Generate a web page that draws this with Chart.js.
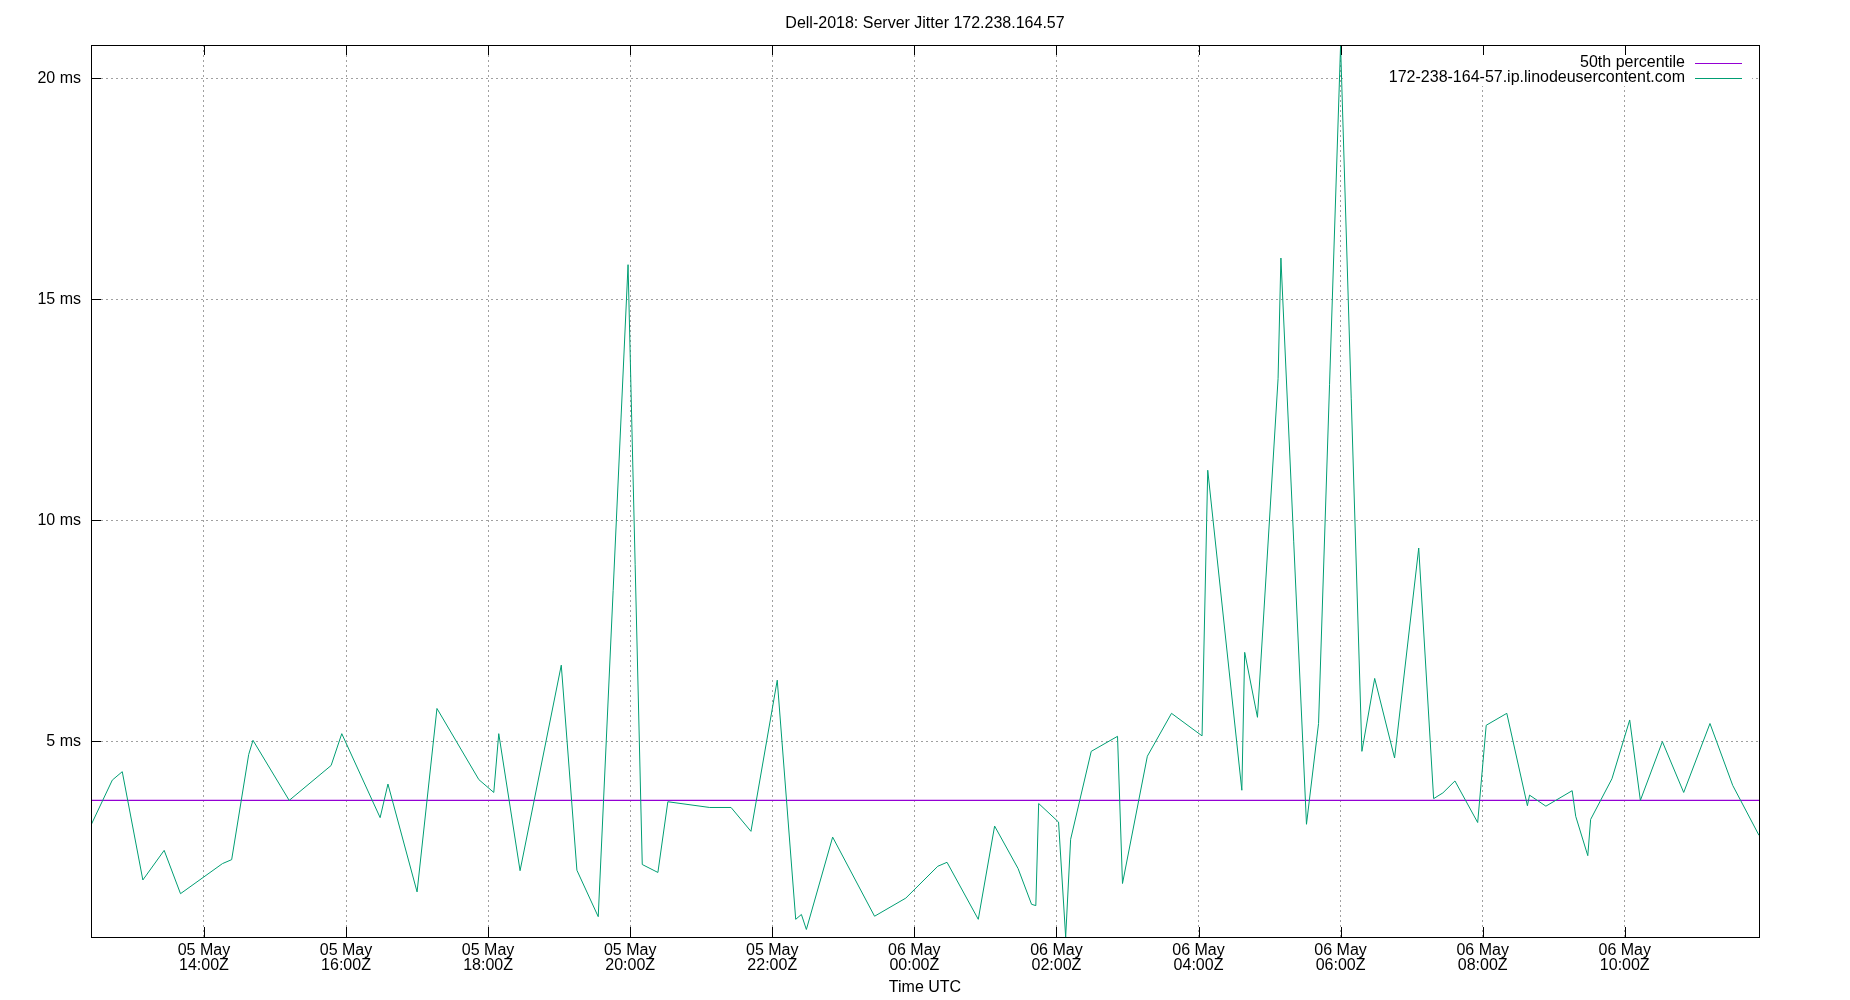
<!DOCTYPE html>
<html>
<head>
<meta charset="utf-8">
<script src="https://cdn.jsdelivr.net/npm/chart.js@4.4.1/dist/chart.umd.min.js"></script>
<style>
  html, body { margin: 0; padding: 0; background: #ffffff; }
  #wrap { width: 1850px; height: 1000px; }
</style>
</head>
<body>
<div id="wrap"><canvas id="c" width="1850" height="1000"></canvas></div>
<script>
// ---- data (hours since 05 May 00:00 UTC) ----
const timesH = [
  12.41, 12.71, 12.85, 13.14, 13.44, 13.67, 14.26, 14.39, 14.63, 14.69,
  15.20, 15.79, 15.94, 16.48, 16.59, 17.00, 17.28, 17.87, 18.08, 18.15,
  18.45, 19.03, 19.25, 19.55, 19.97, 20.17, 20.39, 20.53, 21.12, 21.42,
  21.70, 22.07, 22.33, 22.41, 22.48, 22.85, 23.44, 23.88, 24.33, 24.46,
  24.90, 25.13, 25.46, 25.65, 25.71, 25.75, 26.03, 26.13, 26.20, 26.49,
  26.86, 26.93, 27.28, 27.62, 28.05, 28.13, 28.61, 28.65, 28.83, 29.12,
  29.16, 29.52, 29.69, 30.00, 30.30, 30.48, 30.76, 31.10, 31.31, 31.44,
  31.61, 31.93, 32.05, 32.34, 32.63, 32.66, 32.89, 33.26, 33.31, 33.48,
  33.52, 33.82, 34.07, 34.22, 34.53, 34.83, 35.20, 35.52, 35.89
];
const jitterMs = [
  3.10, 4.12, 4.31, 1.86, 2.53, 1.55, 2.23, 2.32, 4.70, 5.02,
  3.66, 4.45, 5.17, 3.27, 4.03, 1.59, 5.74, 4.13, 3.84, 5.17,
  2.07, 6.72, 2.08, 1.03, 15.78, 2.21, 2.03, 3.63, 3.50, 3.50,
  2.96, 6.38, 0.97, 1.08, 0.74, 2.83, 1.04, 1.45, 2.17, 2.26,
  0.97, 3.08, 2.12, 1.31, 1.28, 3.59, 3.17, 0.57, 2.78, 4.77,
  5.11, 1.78, 4.66, 5.63, 5.12, 11.13, 3.89, 7.01, 5.54, 13.20,
  15.93, 3.12, 5.40, 20.75, 4.77, 6.42, 4.62, 9.37, 3.70, 3.83,
  4.10, 3.16, 5.36, 5.63, 3.54, 3.78, 3.53, 3.88, 3.30, 2.41,
  3.23, 4.15, 5.48, 3.66, 4.99, 3.84, 5.40, 4.00, 2.87
];
const medianMs = 3.66;
const xTickHours = [14, 16, 18, 20, 22, 24, 26, 28, 30, 32, 34];
const dayNames = ['05 May', '06 May'];
const yTickMs = [5, 10, 15, 20];
const titleText = 'Dell-2018: Server Jitter 172.238.164.57';
const xAxisTitle = 'Time UTC';
const seriesLabels = ['50th percentile', '172-238-164-57.ip.linodeusercontent.com'];
const seriesColors = ['#9400d3', '#009e73'];

// ---- build ----
const FONT = "'Liberation Sans', Arial, Helvetica, sans-serif";
Chart.defaults.font.family = FONT;
Chart.defaults.color = '#000000';

const jitterPoints = timesH.map((t, i) => ({ x: t, y: jitterMs[i] }));
const medianPoints = [
  { x: timesH[0], y: medianMs },
  { x: timesH[timesH.length - 1], y: medianMs }
];

function hourLabel(h) {
  const day = dayNames[Math.floor(h / 24)];
  const hh = String(h % 24).padStart(2, '0');
  return [day, hh + ':00Z'];
}

const gridColor = '#a0a0a0';

const framePlugin = {
  id: 'frameTicks',
  beforeDatasetsDraw(chart) {
    // opaque key box
    const { ctx, chartArea: a } = chart;
    ctx.save();
    ctx.fillStyle = '#ffffff';
    ctx.fillRect(a.left + 1252, a.top + 1, a.right - 7 - (a.left + 1252), 40);
    ctx.restore();
  },
  afterDatasetsDraw(chart) {
    const { ctx, chartArea: a, scales } = chart;
    ctx.save();
    ctx.strokeStyle = '#000000';
    ctx.lineWidth = 1;
    // frame
    ctx.strokeRect(a.left + 0.5, a.top + 0.5, a.right - a.left, a.bottom - a.top);
    // inward ticks
    ctx.beginPath();
    scales.x.ticks.forEach(t => {
      const px = Math.round(scales.x.getPixelForValue(t.value)) + 0.5;
      ctx.moveTo(px, a.bottom); ctx.lineTo(px, a.bottom - 10);
      ctx.moveTo(px, a.top); ctx.lineTo(px, a.top + 10);
    });
    scales.y.ticks.forEach(t => {
      const py = Math.round(scales.y.getPixelForValue(t.value)) + 0.5;
      ctx.moveTo(a.left, py); ctx.lineTo(a.left + 10, py);
    });
    ctx.stroke();

    // key
    ctx.font = '16px ' + FONT;
    ctx.textAlign = 'right';
    ctx.textBaseline = 'middle';
    chart.data.datasets.forEach((ds, i) => {
      const y = a.top + 18 + i * 15;
      ctx.fillStyle = '#000000';
      ctx.fillText(ds.label, a.right - 74, y);
      ctx.strokeStyle = ds.borderColor;
      ctx.lineWidth = ds.borderWidth;
      ctx.beginPath();
      ctx.moveTo(a.right - 64, Math.round(y) + 0.5);
      ctx.lineTo(a.right - 17, Math.round(y) + 0.5);
      ctx.stroke();
    });
    ctx.restore();
  }
};

new Chart(document.getElementById('c'), {
  type: 'line',
  data: {
    datasets: [
      {
        label: seriesLabels[0],
        data: medianPoints,
        borderColor: seriesColors[0],
        backgroundColor: seriesColors[0],
        borderWidth: 1.2,
        pointRadius: 0,
        tension: 0,
        fill: false,
        order: 2
      },
      {
        label: seriesLabels[1],
        data: jitterPoints,
        borderColor: seriesColors[1],
        backgroundColor: seriesColors[1],
        borderWidth: 1,
        pointRadius: 0,
        tension: 0,
        fill: false,
        order: 1
      }
    ]
  },
  options: {
    responsive: false,
    animation: false,
    devicePixelRatio: 1,
    layout: { padding: { left: 0, right: 0, top: 0, bottom: 0 } },
    plugins: {
      legend: { display: false },
      tooltip: { enabled: false },
      title: {
        display: true,
        text: titleText,
        color: '#000000',
        font: { family: FONT, size: 16, weight: 'normal', lineHeight: 1.2 },
        padding: { top: 13.6, bottom: 12.2 }
      }
    },
    scales: {
      x: {
        type: 'linear',
        min: timesH[0],
        max: timesH[timesH.length - 1],
        afterBuildTicks: s => { s.ticks = xTickHours.map(v => ({ value: v })); },
        afterFit: s => { s.height = 63; },
        ticks: {
          autoSkip: false,
          maxRotation: 0,
          minRotation: 0,
          padding: 6,
          color: '#000000',
          font: { family: FONT, size: 16, lineHeight: 0.93 },
          callback: v => hourLabel(v)
        },
        grid: { color: gridColor, lineWidth: 1, drawTicks: false },
        border: { display: false, dash: [2, 3] },
        title: {
          display: true,
          text: xAxisTitle,
          color: '#000000',
          font: { family: FONT, size: 16, lineHeight: 1.2 },
          padding: { top: 0, bottom: 2.4 }
        }
      },
      y: {
        type: 'linear',
        position: 'left',
        min: 0.57,
        max: 20.75,
        afterBuildTicks: s => { s.ticks = yTickMs.map(v => ({ value: v })); },
        afterFit: s => { s.width = 91; },
        ticks: {
          padding: 10,
          color: '#000000',
          font: { family: FONT, size: 16 },
          callback: v => v + ' ms'
        },
        grid: { color: gridColor, lineWidth: 1, drawTicks: false },
        border: { display: false, dash: [2, 3] }
      },
      yRight: {
        type: 'linear',
        position: 'right',
        min: 0.57,
        max: 20.75,
        afterFit: s => { s.width = 91; },
        ticks: { display: false },
        grid: { display: false, drawTicks: false },
        border: { display: false }
      }
    }
  },
  plugins: [framePlugin]
});
</script>
</body>
</html>
